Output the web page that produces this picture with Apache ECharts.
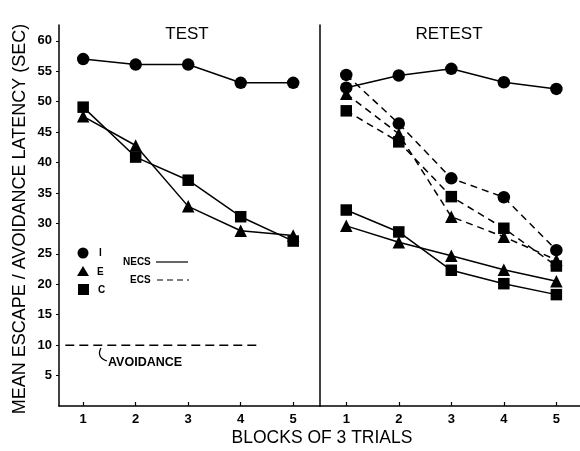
<!DOCTYPE html>
<html><head><meta charset="utf-8">
<script src="https://cdn.jsdelivr.net/npm/echarts@6/dist/echarts.min.js"></script>
<style>html,body{margin:0;padding:0;background:#fff}#c{width:580px;height:451px}</style>
</head><body><div id="c"></div>
<script>
var blocks = [1, 2, 3, 4, 5];
var yTicks = [5, 10, 15, 20, 25, 30, 35, 40, 45, 50, 55, 60];
// TEST panel (NECS only)
var testI = [57, 56.1, 56.1, 53.1, 53.1];
var testE = [47.6, 42.8, 32.8, 28.8, 28];
var testC = [49.1, 40.9, 37.1, 31.1, 27.1];
// RETEST panel NECS (solid)
var retestNecsI = [52.3, 54.3, 55.4, 53.2, 52.1];
var retestNecsE = [29.6, 26.9, 24.7, 22.4, 20.5];
var retestNecsC = [32.2, 28.6, 22.3, 20.1, 18.3];
// RETEST panel ECS (dashed)
var retestEcsI = [54.4, 46.4, 37.4, 34.3, 25.6];
var retestEcsE = [51.3, 44.7, 31.1, 27.8, 24];
var retestEcsC = [48.5, 43.4, 34.4, 29.2, 23];
var avoidanceLevel = 10;
var avoidanceSpan = [0.66, 4.37];

function pairs(vals) { return blocks.map(function (b, i) { return [b, vals[i]]; }); }

var chart = echarts.init(document.getElementById('c'));
var font = '"Liberation Sans", Arial, sans-serif';

function ser(name, idx, vals, sym, size, dashed) {
  return {
    name: name, type: 'line', xAxisIndex: idx, yAxisIndex: idx,
    data: pairs(vals), symbol: sym, symbolSize: size,
    lineStyle: { color: '#000', width: 1.5, type: dashed ? [7, 5] : 'solid' },
    itemStyle: { color: '#000' }, animation: false, z: 3
  };
}

function xAx(idx, min, max) {
  return {
    type: 'value', gridIndex: idx, min: min, max: max,
    axisLine: { show: true, lineStyle: { color: '#000', width: 1.5 } },
    axisTick: { show: true, inside: true, length: 4, customValues: blocks, lineStyle: { color: '#000', width: 1.2 } },
    axisLabel: { customValues: blocks, color: '#000', fontFamily: font, fontWeight: 'bold', fontSize: 13, margin: 7 },
    splitLine: { show: false }
  };
}
function yAx(idx, labels) {
  return {
    type: 'value', gridIndex: idx, min: 0, max: 62.6,
    axisLine: { show: true, lineStyle: { color: '#000', width: 1.5 } },
    axisTick: { show: labels, length: 3, customValues: yTicks, lineStyle: { color: '#000' } },
    axisLabel: { show: labels, customValues: yTicks, color: '#000', fontFamily: font, fontWeight: 'bold', fontSize: 13, margin: 7 },
    splitLine: { show: false }
  };
}

chart.setOption({
  backgroundColor: '#fff',
  animation: false,
  grid: [
    { left: 59, top: 25, width: 261, height: 381 },
    { left: 320, top: 25, width: 260, height: 381 }
  ],
  xAxis: [xAx(0, 0.54, 5.51), xAx(1, 0.5, 5.45)],
  yAxis: [yAx(0, true), yAx(1, false)],
  series: [
    ser('I', 0, testI, 'circle', 12.5, false),
    ser('E', 0, testE, 'triangle', 12.5, false),
    ser('C', 0, testC, 'rect', 11.5, false),
    ser('I NECS', 1, retestNecsI, 'circle', 12.5, false),
    ser('E NECS', 1, retestNecsE, 'triangle', 12.5, false),
    ser('C NECS', 1, retestNecsC, 'rect', 11.5, false),
    ser('I ECS', 1, retestEcsI, 'circle', 12.5, true),
    ser('E ECS', 1, retestEcsE, 'triangle', 12.5, true),
    ser('C ECS', 1, retestEcsC, 'rect', 11.5, true),
    {
      name: 'Avoidance', type: 'line', xAxisIndex: 0, yAxisIndex: 0,
      data: [[avoidanceSpan[0], avoidanceLevel], [avoidanceSpan[1], avoidanceLevel]],
      symbol: 'none', lineStyle: { color: '#000', width: 1.5, type: [9, 5] }, z: 2
    }
  ],
  graphic: [
    { type: 'text', x: 187, y: 34, style: { text: 'TEST', font: '17px ' + font, fill: '#000', textAlign: 'center', textVerticalAlign: 'middle' } },
    { type: 'text', x: 449, y: 34, style: { text: 'RETEST', font: '17px ' + font, fill: '#000', textAlign: 'center', textVerticalAlign: 'middle' } },
    { type: 'text', x: 322, y: 438, style: { text: 'BLOCKS OF 3 TRIALS', font: '17.5px ' + font, fill: '#000', textAlign: 'center', textVerticalAlign: 'middle' } },
    { type: 'text', x: 20, y: 219, rotation: Math.PI / 2, style: { text: 'MEAN ESCAPE / AVOIDANCE LATENCY (SEC)', font: '18px ' + font, fill: '#000', textAlign: 'center', textVerticalAlign: 'middle' } },
    { type: 'text', x: 108, y: 363, style: { text: 'AVOIDANCE', font: 'bold 12.5px ' + font, fill: '#000', textAlign: 'left', textVerticalAlign: 'middle' } },
    { type: 'bezierCurve', shape: { x1: 101, y1: 348, cpx1: 96, cpy1: 357, x2: 107, y2: 361 }, style: { stroke: '#000', lineWidth: 1.3, fill: null } },
    { type: 'circle', shape: { cx: 83, cy: 253, r: 5.5 }, style: { fill: '#000' } },
    { type: 'polygon', shape: { points: [[83, 266], [77, 276], [89, 276]] }, style: { fill: '#000' } },
    { type: 'rect', shape: { x: 78, y: 284, width: 11, height: 11 }, style: { fill: '#000' } },
    { type: 'text', x: 99, y: 253, style: { text: 'I', font: 'bold 10px ' + font, fill: '#000', textVerticalAlign: 'middle' } },
    { type: 'text', x: 97, y: 272, style: { text: 'E', font: 'bold 10px ' + font, fill: '#000', textVerticalAlign: 'middle' } },
    { type: 'text', x: 98, y: 290, style: { text: 'C', font: 'bold 10px ' + font, fill: '#000', textVerticalAlign: 'middle' } },
    { type: 'text', x: 123, y: 262, style: { text: 'NECS', font: 'bold 10px ' + font, fill: '#000', textVerticalAlign: 'middle' } },
    { type: 'line', shape: { x1: 156, y1: 262, x2: 188, y2: 262 }, style: { stroke: '#000', lineWidth: 1.2 } },
    { type: 'text', x: 130, y: 280, style: { text: 'ECS', font: 'bold 10px ' + font, fill: '#000', textVerticalAlign: 'middle' } },
    { type: 'line', shape: { x1: 157, y1: 280, x2: 189, y2: 280 }, style: { stroke: '#000', lineWidth: 1.2, lineDash: [6, 4] } }
  ]
});
</script></body></html>
